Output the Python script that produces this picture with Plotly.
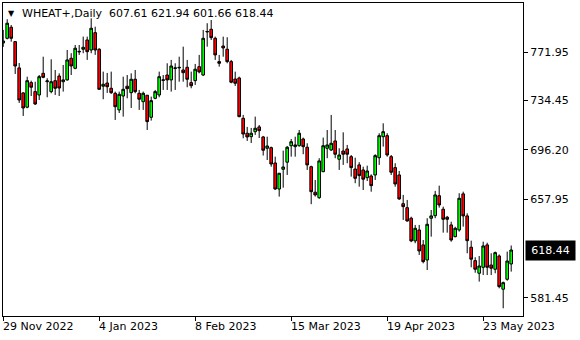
import pandas as pd
import plotly.graph_objects as go

# ---- data ----
holidays = ['2022-12-26', '2023-01-02', '2023-01-16', '2023-02-20', '2023-04-07', '2023-05-29']
all_days = pd.bdate_range('2022-11-29', '2023-06-02')
dates = [d.strftime('%Y-%m-%d') for d in all_days if d.strftime('%Y-%m-%d') not in holidays]

opens = [779.2, 782.8, 791.4, 780.2, 759.8, 740.4, 729.3, 748.4, 741.4, 738.8,
         755.6, 749.1, 741.4, 749.9, 753.5, 749.1, 750.5, 767.3, 759.5, 772.2,
         774.3, 781.5, 773.7, 787.2, 774.3, 745.6, 748.1, 744.0, 740.1, 727.2,
         738.0, 745.6, 740.6, 751.0, 740.1, 733.6, 738.6, 721.5, 736.2, 738.8,
         750.1, 754.3, 750.5, 759.4, 759.8, 758.2, 760.3, 748.4, 749.9, 760.8,
         754.3, 787.7, 789.8, 782.8, 764.7, 776.8, 774.3, 764.7, 751.2, 752.0,
         720.7, 709.1, 706.4, 710.3, 714.0, 706.2, 697.4, 697.9, 686.0, 665.8,
         681.1, 686.6, 699.4, 698.7, 699.4, 704.6, 698.2, 683.1, 663.3, 659.1,
         679.3, 697.4, 696.1, 703.1, 688.9, 695.3, 696.9, 690.9, 681.3, 684.5,
         680.6, 674.6, 675.9, 676.7, 690.1, 706.4, 707.2, 690.9, 682.4, 676.7,
         654.4, 651.3, 643.1, 625.5, 634.0, 622.4, 610.7, 643.1, 645.1, 660.6,
         650.1, 643.9, 637.9, 628.8, 634.0, 662.0, 644.9, 620.6, 610.2, 600.4,
         605.0, 622.4, 606.8, 603.5, 613.8, 588.0, 595.7, 607.61]

highs = [789.3, 797.6, 793.1, 780.7, 763.6, 741.0, 753.0, 749.9, 749.1, 754.3,
         768.5, 751.8, 766.5, 758.2, 755.6, 762.1, 773.7, 771.2, 777.6, 777.6,
         784.1, 784.1, 798.3, 791.8, 775.1, 756.9, 755.9, 756.9, 741.4, 741.4,
         753.0, 754.3, 755.6, 758.2, 742.7, 741.4, 738.8, 737.5, 742.7, 756.9,
         754.3, 763.4, 766.0, 763.4, 768.5, 776.3, 766.0, 756.9, 762.9, 769.9,
         789.3, 794.5, 797.0, 784.1, 769.9, 784.1, 783.6, 766.0, 756.9, 753.0,
         723.3, 714.0, 713.2, 722.0, 715.5, 707.0, 706.4, 698.7, 690.9, 678.3,
         695.6, 699.2, 704.6, 706.4, 711.6, 705.7, 701.3, 683.9, 672.8, 689.7,
         705.7, 711.6, 723.3, 711.6, 697.4, 709.8, 700.0, 692.2, 690.1, 686.6,
         683.1, 683.9, 677.2, 692.8, 709.1, 716.8, 709.1, 692.2, 685.8, 679.8,
         661.2, 657.3, 644.3, 637.9, 637.9, 626.2, 643.1, 649.5, 664.3, 668.4,
         652.1, 644.9, 640.4, 636.5, 662.5, 663.7, 646.9, 625.7, 612.8, 613.8,
         624.9, 624.1, 615.9, 617.2, 615.0, 593.9, 617.2, 621.94]

lows = [776.1, 782.0, 780.2, 755.1, 732.6, 722.5, 728.5, 738.0, 731.0, 734.9,
        751.8, 737.0, 740.1, 738.8, 738.0, 741.4, 749.9, 754.3, 758.8, 769.9,
        771.2, 766.0, 771.2, 769.9, 742.7, 735.5, 740.4, 739.6, 719.4, 724.8,
        722.0, 736.2, 728.7, 740.1, 727.2, 727.2, 711.6, 718.9, 735.5, 737.0,
        742.7, 742.7, 741.4, 742.7, 749.1, 749.1, 744.8, 744.0, 746.6, 755.6,
        753.5, 776.3, 781.5, 766.0, 760.8, 768.5, 763.4, 747.9, 745.8, 721.5,
        705.2, 703.1, 701.5, 707.8, 705.4, 691.8, 688.3, 683.1, 665.0, 659.9,
        666.8, 676.7, 690.9, 690.9, 698.7, 692.8, 680.6, 654.0, 659.9, 658.1,
        678.8, 689.7, 695.3, 689.7, 680.6, 684.5, 685.8, 675.4, 670.3, 667.6,
        665.0, 672.0, 663.7, 672.8, 684.5, 698.7, 690.9, 676.7, 667.6, 657.3,
        641.8, 640.4, 624.5, 623.7, 614.6, 608.1, 602.9, 628.8, 643.1, 651.3,
        631.9, 631.9, 624.9, 628.3, 632.7, 636.6, 615.9, 605.0, 600.8, 593.9,
        599.0, 599.0, 599.0, 600.4, 588.7, 573.2, 594.6, 601.66]

closes = [780.7, 794.5, 782.8, 761.3, 734.9, 728.7, 749.9, 744.8, 731.8, 753.0,
          752.5, 749.7, 749.1, 744.0, 744.2, 750.5, 766.0, 761.3, 775.1, 772.6,
          775.8, 772.4, 790.6, 773.7, 743.2, 747.1, 745.2, 740.6, 729.7, 739.3,
          743.2, 743.7, 751.0, 741.4, 735.5, 740.1, 718.1, 734.4, 741.4, 753.0,
          750.5, 750.5, 761.3, 759.8, 760.2, 756.1, 751.0, 746.0, 758.8, 756.7,
          782.8, 788.1, 783.3, 769.9, 763.4, 775.3, 764.7, 748.7, 747.9, 722.0,
          708.5, 706.2, 709.1, 712.95, 711.1, 695.9, 699.2, 685.2, 665.8, 678.0,
          682.9, 698.2, 702.5, 700.0, 709.1, 698.7, 684.5, 663.7, 661.2, 687.6,
          699.4, 700.0, 701.3, 692.8, 692.2, 692.8, 692.8, 682.4, 674.1, 676.2,
          673.4, 679.8, 668.4, 691.7, 707.2, 710.3, 692.2, 678.8, 669.7, 658.1,
          652.1, 641.0, 625.5, 635.3, 617.7, 609.4, 638.4, 644.9, 661.2, 653.4,
          642.3, 642.3, 626.2, 635.3, 658.6, 644.9, 625.7, 611.3, 603.5, 606.0,
          621.6, 605.0, 604.3, 616.4, 590.0, 593.1, 609.9, 618.44]

x_tick_dates = ['2022-11-29', '2023-01-04', '2023-02-08', '2023-03-15', '2023-04-19', '2023-05-23']
x_tick_labels = ['29 Nov 2022', '4 Jan 2023', '8 Feb 2023', '15 Mar 2023', '19 Apr 2023', '23 May 2023']
y_tick_vals = [581.45, 657.95, 696.20, 734.45, 771.95]
symbol = 'WHEAT+,Daily'
last_price = closes[-1]

FONT = 'DejaVu Sans'

fig = go.Figure(go.Candlestick(
    x=dates, open=opens, high=highs, low=lows, close=closes,
    increasing=dict(fillcolor='#00FF00', line=dict(color='black', width=1)),
    decreasing=dict(fillcolor='#FF0000', line=dict(color='black', width=1)),
    whiskerwidth=0, hoverinfo='skip'))

annotations = []
for d, t in zip(x_tick_dates, x_tick_labels):
    annotations.append(dict(x=d, xref='x', y=0, yref='paper', yanchor='top', xanchor='left',
                            yshift=-2, xshift=-2, text=t, showarrow=False,
                            font=dict(family=FONT, size=11, color='black')))

annotations.append(dict(x=0, xref='paper', y=1, yref='paper', xanchor='left', yanchor='top',
                        xshift=17, yshift=-2, showarrow=False,
                        text=f"{symbol}\u00a0\u00a0{opens[-1]:.2f} {highs[-1]:.2f} {lows[-1]:.2f} {closes[-1]:.2f}",
                        font=dict(family=FONT, size=11, color='black')))
annotations.append(dict(x=0, xref='paper', y=1, yref='paper', xanchor='left', yanchor='top',
                        xshift=3, yshift=-4, showarrow=False, text='\u25bc',
                        font=dict(family=FONT, size=8, color='black')))
annotations.append(dict(x=1, xref='paper', y=last_price, yref='y', xanchor='left', yanchor='middle',
                        xshift=2, showarrow=False, text=f"{last_price:.2f}", bgcolor='black',
                        width=47, height=17, borderpad=1,
                        font=dict(family=FONT, size=11, color='white')))

fig.update_layout(
    width=580, height=340,
    margin=dict(l=3, r=57, t=3, b=24),
    paper_bgcolor='white', plot_bgcolor='white',
    showlegend=False,
    boxgap=0.05,
    annotations=annotations,
    xaxis=dict(type='category', range=[-0.05, 129.95], showgrid=False, zeroline=False,
               rangeslider=dict(visible=False),
               showline=True, linecolor='black', linewidth=1, mirror=True,
               ticks='outside', ticklen=4, tickcolor='black', tickwidth=1,
               tickvals=x_tick_dates, showticklabels=False),
    yaxis=dict(side='right', range=[567.2, 810.2], showgrid=False, zeroline=False,
               showline=True, linecolor='black', linewidth=1, mirror=True,
               ticks='outside', ticklen=4, tickcolor='black', tickwidth=1,
               tickvals=y_tick_vals, ticktext=[f"{v:.2f}" for v in y_tick_vals],
               tickfont=dict(family=FONT, size=11, color='black')),
)

fig.write_html('out.html')
